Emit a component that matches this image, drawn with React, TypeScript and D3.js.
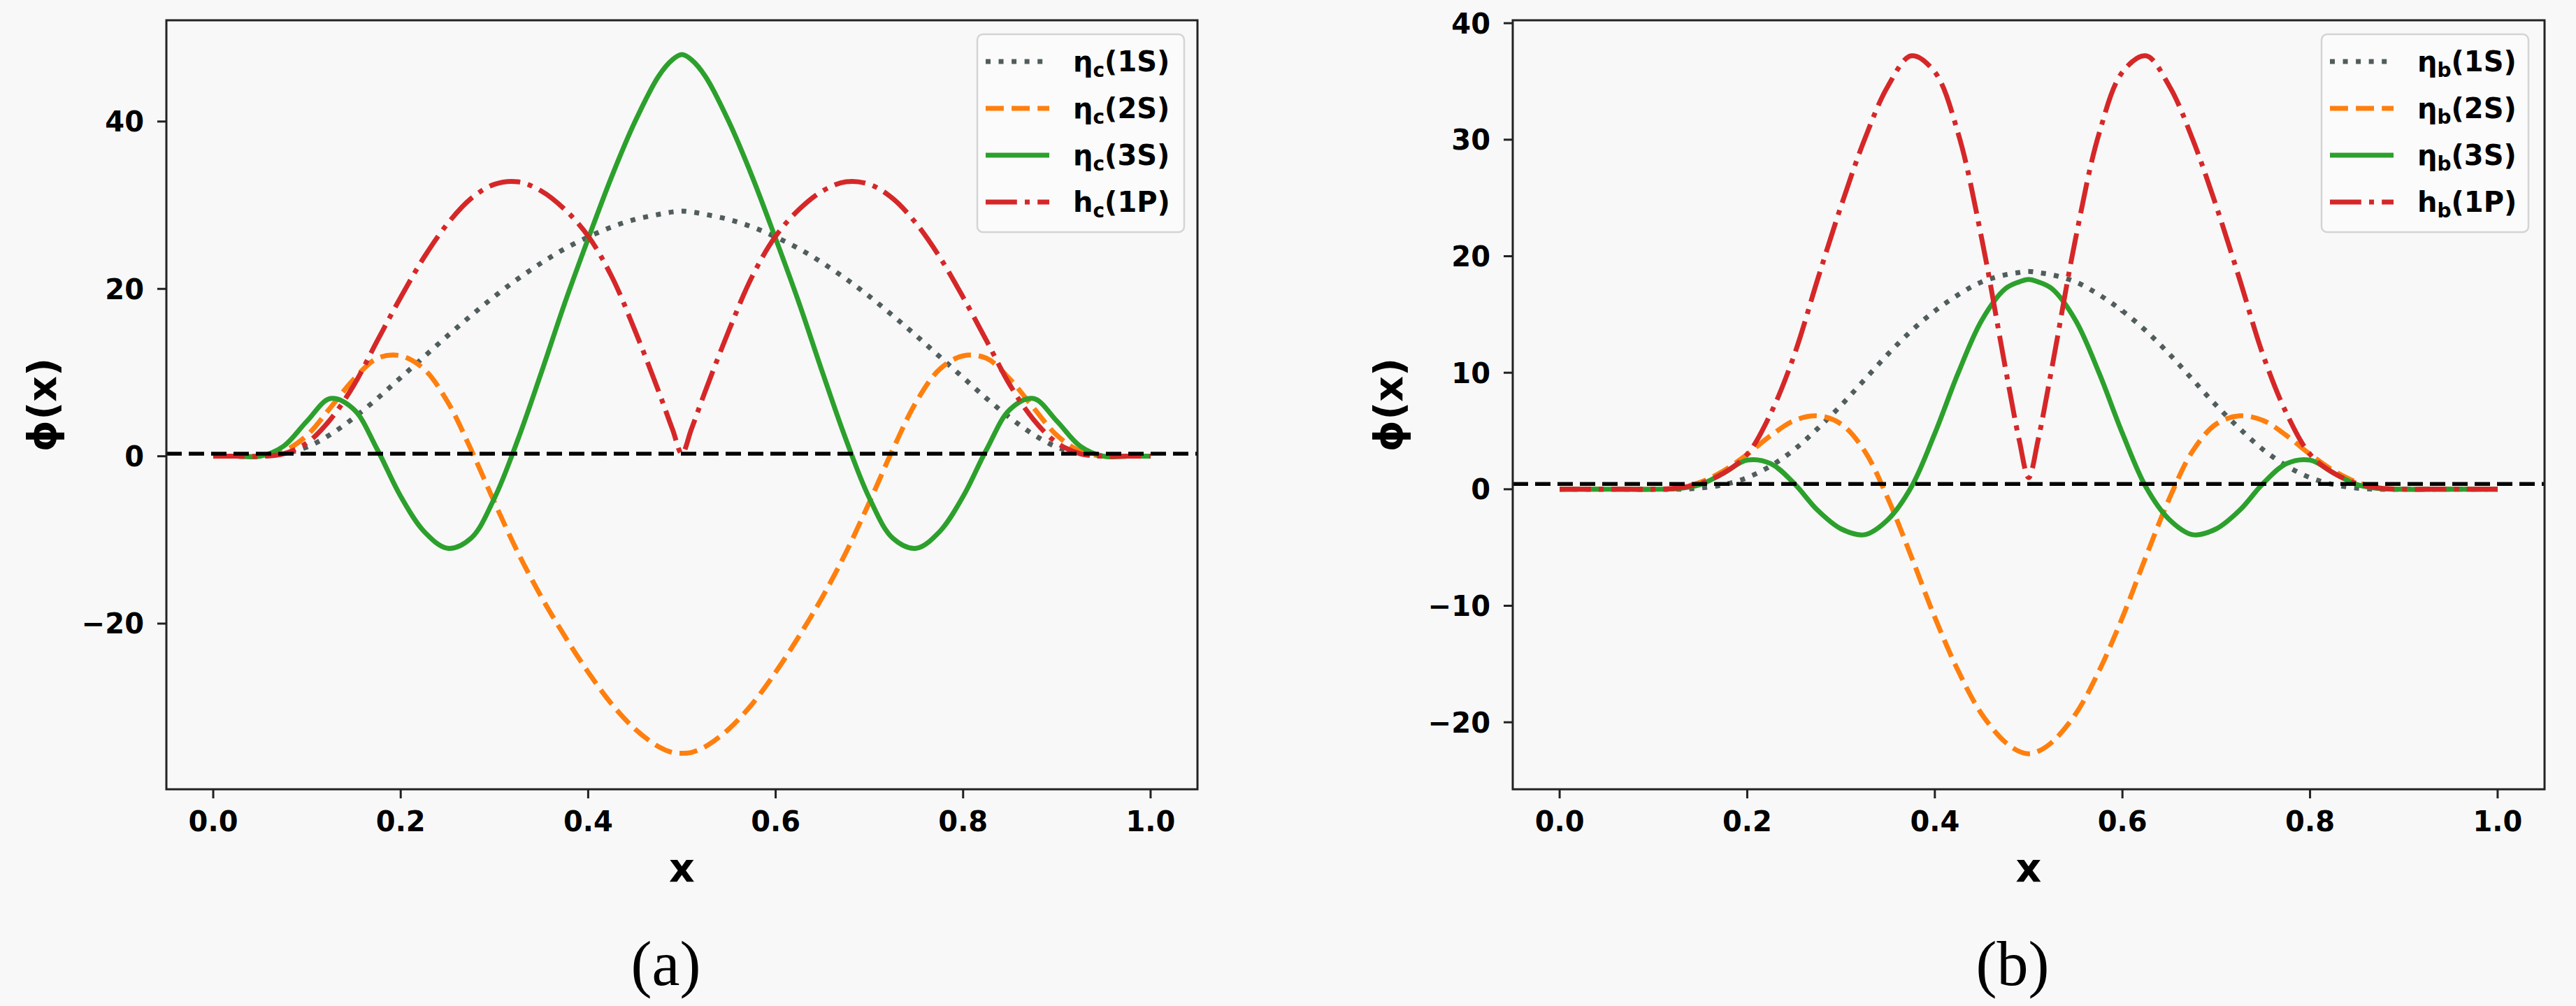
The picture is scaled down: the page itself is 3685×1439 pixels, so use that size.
import * as d3 from 'd3';

// sample positions along x (denser around the 1P node at x = 0.5)
const X_VALUES = [
	0, 0.025, 0.05, 0.075, 0.1, 0.125, 0.15, 0.175, 0.2, 0.225,
	0.25, 0.275, 0.3, 0.325, 0.35, 0.375, 0.4, 0.425, 0.45, 0.475,
	0.49, 0.5, 0.51,
	0.525, 0.55, 0.575, 0.6, 0.625, 0.65, 0.675, 0.7, 0.725, 0.75,
	0.775, 0.8, 0.825, 0.85, 0.875, 0.9, 0.925, 0.95, 0.975, 1.0,
];

// panel (a): charmonium
const ETA_C_1S = [
	0, 0, 0, 0.3, 1.1, 2.6, 4.6, 6.9, 9.4, 11.9,
	14.4, 16.8, 19.1, 21.2, 23.1, 24.8, 26.2, 27.4, 28.3, 28.9,
	29.2, 29.3, 29.2,
	28.9, 28.3, 27.4, 26.2, 24.8, 23.1, 21.2, 19.1, 16.8, 14.4,
	11.9, 9.4, 6.9, 4.6, 2.6, 1.1, 0.3, 0, 0, 0,
];
const ETA_C_2S = [
	0, 0, 0, 0.6, 2.5, 5.8, 9.2, 11.7, 12.0, 10.4,
	6.5, 0.8, -5.5, -11.5, -16.8, -21.5, -25.8, -29.6, -32.6, -34.7,
	-35.4, -35.5, -35.4,
	-34.7, -32.6, -29.6, -25.8, -21.5, -16.8, -11.5, -5.5, 0.8, 6.5,
	10.4, 12.0, 11.7, 9.2, 5.8, 2.5, 0.6, 0, 0, 0,
];
const ETA_C_3S = [
	0, 0, 0, 1.2, 4.2, 6.9, 5.6, 0.8, -4.8, -9.0,
	-11.0, -9.8, -5.0, 2.0, 10.0, 18.3, 26.0, 33.4, 40.0, 45.4,
	47.4, 48.0, 47.4,
	45.4, 40.0, 33.4, 26.0, 18.3, 10.0, 2.0, -5.0, -9.8, -11.0,
	-9.0, -4.8, 0.8, 5.6, 6.9, 4.2, 1.2, 0, 0, 0,
];
const H_C_1P = [
	0, 0, 0, 0.3, 1.6, 4.4, 8.5, 13.8, 19.0, 23.8,
	27.8, 30.8, 32.5, 32.8, 31.7, 29.5, 26.3, 21.5, 15.0, 7.8,
	3.2, 0.3, 3.2,
	7.8, 15.0, 21.5, 26.3, 29.5, 31.7, 32.8, 32.5, 30.8, 27.8,
	23.8, 19.0, 13.8, 8.5, 4.4, 1.6, 0.3, 0, 0, 0,
];

// panel (b): bottomonium
const ETA_B_1S = [
	0, 0, 0, 0, 0, 0, 0.1, 0.4, 1.0, 2.0,
	3.4, 5.2, 7.2, 9.4, 11.6, 13.6, 15.3, 16.7, 17.8, 18.4,
	18.6, 18.7, 18.6,
	18.4, 17.8, 16.7, 15.3, 13.6, 11.6, 9.4, 7.2, 5.2, 3.4,
	2.0, 1.0, 0.4, 0.1, 0, 0, 0, 0, 0, 0,
];
const ETA_B_2S = [
	0, 0, 0, 0, 0, 0.1, 0.6, 1.6, 3.0, 4.6,
	5.9, 6.3, 5.6, 3.3, -0.8, -5.8, -11.0, -15.6, -19.3, -21.7,
	-22.5, -22.7, -22.5,
	-21.7, -19.3, -15.6, -11.0, -5.8, -0.8, 3.3, 5.6, 6.3, 5.9,
	4.6, 3.0, 1.6, 0.6, 0.1, 0, 0, 0, 0, 0,
];
const ETA_B_3S = [
	0, 0, 0, 0, 0, 0.05, 0.4, 1.4, 2.5, 2.2,
	0.5, -1.8, -3.4, -3.9, -2.6, 0.2, 4.8, 10.0, 14.5, 17.2,
	17.8, 18.0, 17.8,
	17.2, 14.5, 10.0, 4.8, 0.2, -2.6, -3.9, -3.4, -1.8, 0.5,
	2.2, 2.5, 1.4, 0.4, 0.05, 0, 0, 0, 0, 0,
];
const H_B_1P = [
	0, 0, 0, 0, 0, 0.1, 0.5, 1.4, 3.0, 6.5,
	11.5, 18.0, 24.3, 30.0, 34.6, 37.2, 35.8, 30.5, 21.5, 10.5,
	4.2, 1.0, 4.2,
	10.5, 21.5, 30.5, 35.8, 37.2, 34.6, 30.0, 24.3, 18.0, 11.5,
	6.5, 3.0, 1.4, 0.5, 0.1, 0, 0, 0, 0, 0,
];

const X_TICKS = [0, 0.2, 0.4, 0.6, 0.8, 1.0];
const Y_TICKS_A = [-20, 0, 20, 40];
const Y_TICKS_B = [-20, -10, 0, 10, 20, 30, 40];
const LABELS_A = [
	{ base: 'η', sub: 'c', tail: '(1S)' },
	{ base: 'η', sub: 'c', tail: '(2S)' },
	{ base: 'η', sub: 'c', tail: '(3S)' },
	{ base: 'h', sub: 'c', tail: '(1P)' },
];
const LABELS_B = [
	{ base: 'η', sub: 'b', tail: '(1S)' },
	{ base: 'η', sub: 'b', tail: '(2S)' },
	{ base: 'η', sub: 'b', tail: '(3S)' },
	{ base: 'h', sub: 'b', tail: '(1P)' },
];

const W = 3685;
const H = 1439;
const BG = '#f8f8f8';
const FONT = '"DejaVu Sans", sans-serif';
const LW = 7;

const STYLES = [
	{ color: '#515d5d', dash: `${LW} ${LW * 1.65}` },
	{ color: '#ff7f0e', dash: `${LW * 3.7} ${LW * 1.6}` },
	{ color: '#2ca02c', dash: '' },
	{ color: '#d62728', dash: `${LW * 6.4} ${LW * 1.6} ${LW} ${LW * 1.6}` },
];

interface PanelProps {
	left: number;
	right: number;
	top: number;
	bottom: number;
	yDomain: [number, number];
	yTicks: number[];
	series: number[][];
	labels: { base: string; sub: string; tail: string }[];
	zeroLine: number;
	legendX: number;
	tag: string;
}

const Panel: React.FC<PanelProps> = ({
	left, right, top, bottom, yDomain, yTicks, series, labels, zeroLine, legendX, tag,
}) => {
	const x = d3.scaleLinear().domain([-0.05, 1.05]).range([left, right]);
	const y = d3.scaleLinear().domain(yDomain).range([bottom, top]);
	const line = d3
		.line<number>()
		.x((_, i) => x(X_VALUES[i]))
		.y((d) => y(d))
		.curve(d3.curveCatmullRom.alpha(0.5));
	const fmtY = d3.format('d');
	const fmtX = d3.format('.1f');
	const cx = (left + right) / 2;
	const cy = (top + bottom) / 2;
	const rowH = 67;
	const legendTop = 49;

	return (
		<g>
			<defs>
				<clipPath id={`clip-${tag}`}>
					<rect x={left} y={top} width={right - left} height={bottom - top} />
				</clipPath>
			</defs>
			<g clipPath={`url(#clip-${tag})`}>
				{series.map((s, i) => (
					<path
						key={i}
						d={line(s) ?? ''}
						fill='none'
						stroke={STYLES[i].color}
						strokeWidth={LW}
						strokeDasharray={STYLES[i].dash}
					/>
				))}
				<line
					x1={left}
					x2={right}
					y1={y(zeroLine)}
					y2={y(zeroLine)}
					stroke='#000'
					strokeWidth={5.5}
					strokeDasharray='22 10'
				/>
			</g>
			<rect
				x={left}
				y={top}
				width={right - left}
				height={bottom - top}
				fill='none'
				stroke='#222'
				strokeWidth={3}
			/>
			{X_TICKS.map((t) => (
				<g key={t}>
					<line x1={x(t)} x2={x(t)} y1={bottom} y2={bottom + 13} stroke='#222' strokeWidth={3} />
					<text
						x={x(t)}
						y={bottom + 60}
						textAnchor='middle'
						fontFamily={FONT}
						fontWeight='bold'
						fontSize={40}
					>
						{fmtX(t)}
					</text>
				</g>
			))}
			{yTicks.map((t) => (
				<g key={t}>
					<line x1={left - 13} x2={left} y1={y(t)} y2={y(t)} stroke='#222' strokeWidth={3} />
					<text
						x={left - 32}
						y={y(t)}
						dy='0.36em'
						textAnchor='end'
						fontFamily={FONT}
						fontWeight='bold'
						fontSize={40}
					>
						{fmtY(t)}
					</text>
				</g>
			))}
			<text
				x={cx}
				y={1261}
				textAnchor='middle'
				fontFamily={FONT}
				fontWeight='bold'
				fontSize={57}
			>
				x
			</text>
			<text
				transform={`translate(${left - 178}, ${cy}) rotate(-90)`}
				dy='0.35em'
				textAnchor='middle'
				fontFamily={FONT}
				fontWeight='bold'
				fontSize={57}
			>
				ϕ(x)
			</text>
			<text
				x={cx - 23}
				y={1409}
				textAnchor='middle'
				fontFamily='"Liberation Serif", "Times New Roman", serif'
				fontSize={90}
			>
				({tag})
			</text>
			<rect
				x={legendX}
				y={legendTop}
				width={296}
				height={283}
				rx={8}
				fill='#fbfbfb'
				stroke='#d4d4d4'
				strokeWidth={2.5}
			/>
			{labels.map((lab, i) => {
				const ly = legendTop + 39 + i * rowH;
				return (
					<g key={i}>
						<line
							x1={legendX + 12}
							x2={legendX + 103}
							y1={ly}
							y2={ly}
							stroke={STYLES[i].color}
							strokeWidth={LW}
							strokeDasharray={STYLES[i].dash}
						/>
						<text
							x={legendX + 137}
							y={ly}
							dy='0.36em'
							fontFamily={FONT}
							fontWeight='bold'
							fontSize={40}
						>
							{lab.base}
							<tspan fontSize={28} dy='0.28em'>{lab.sub}</tspan>
							<tspan dy='-0.2em'>{lab.tail}</tspan>
						</text>
					</g>
				);
			})}
		</g>
	);
};

export default function App() {
	return (
		<svg
			width={W}
			height={H}
			style={{ position: 'absolute', left: 0, top: 0, display: 'block' }}
		>
			<rect width={W} height={H} fill={BG} />
			<Panel
				left={238}
				right={1713}
				top={29}
				bottom={1129}
				yDomain={[-39.8, 52.1]}
				yTicks={Y_TICKS_A}
				series={[ETA_C_1S, ETA_C_2S, ETA_C_3S, H_C_1P]}
				labels={LABELS_A}
				zeroLine={0.3}
				legendX={1398}
				tag='a'
			/>
			<Panel
				left={2164}
				right={3640}
				top={29}
				bottom={1129}
				yDomain={[-25.75, 40.25]}
				yTicks={Y_TICKS_B}
				series={[ETA_B_1S, ETA_B_2S, ETA_B_3S, H_B_1P]}
				labels={LABELS_B}
				zeroLine={0.45}
				legendX={3321}
				tag='b'
			/>
		</svg>
	);
}
